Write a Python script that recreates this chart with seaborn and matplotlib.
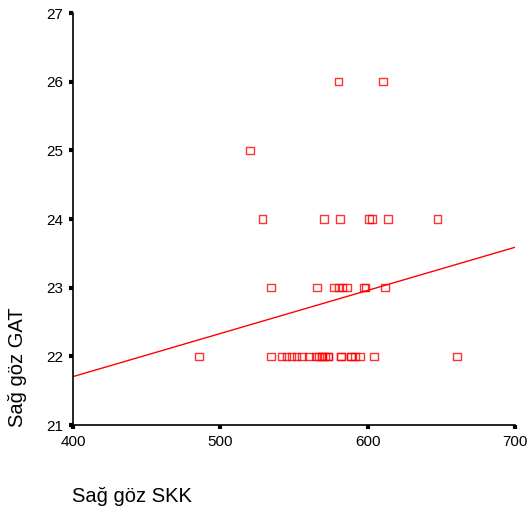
import matplotlib
matplotlib.use("Agg")
import matplotlib.pyplot as plt
import seaborn as sns
import pandas as pd

# Sağ göz SKK values grouped by Sağ göz GAT level (overlapping points counted twice)
skk_gat22 = [485.7, 534.4, 541.4, 545.0, 548.2, 551.8, 555.6, 560.0, 564.9, 566.8,
             568.8, 568.8, 571.0, 573.3, 573.3, 581.7, 581.7, 588.5, 588.5, 591.4,
             594.8, 604.5, 660.6]
skk_gat23 = [534.4, 565.8, 577.2, 580.1, 583.0, 585.8, 597.5, 598.4, 611.8]
skk_gat24 = [528.5, 570.2, 581.2, 601.0, 603.0, 614.0, 647.5]
skk_gat25 = [520.1]
skk_gat26 = [580.1, 610.6]

x_ticks = [400, 500, 600, 700]
y_ticks = [21, 22, 23, 24, 25, 26, 27]

skk = skk_gat22 + skk_gat23 + skk_gat24 + skk_gat25 + skk_gat26
gat = ([22] * len(skk_gat22) + [23] * len(skk_gat23) + [24] * len(skk_gat24)
       + [25] * len(skk_gat25) + [26] * len(skk_gat26))
df = pd.DataFrame({"Sağ göz SKK": skk, "Sağ göz GAT": gat})

sns.set_style("white")
plt.rcParams["font.family"] = ["Liberation Sans", "DejaVu Sans"]

fig = plt.figure(figsize=(5.31, 5.11), dpi=100)
ax = fig.add_axes([73 / 531, 1 - 425 / 511, (515 - 73) / 531, (425 - 13) / 511])
ax.set_xlim(400, 700)
ax.set_ylim(21, 27)

sns.regplot(data=df, x="Sağ göz SKK", y="Sağ göz GAT", ax=ax, ci=None, truncate=False,
            marker="s",
            scatter_kws=dict(s=30, facecolors="none", edgecolors="red", linewidths=1.0),
            line_kws=dict(color="red", linewidth=1.0))

ax.set_xlim(400, 700)
ax.set_ylim(21, 27)
ax.set_xticks(x_ticks)
ax.set_yticks(y_ticks)
sns.despine(ax=ax)
for s in ["left", "bottom"]:
    ax.spines[s].set_color("black")
    ax.spines[s].set_linewidth(1.2)
ax.tick_params(axis="both", which="major", direction="out", length=3, width=3,
               color="black", labelcolor="black", labelsize=11,
               bottom=True, left=True)
ax.tick_params(axis="x", pad=4)
ax.tick_params(axis="y", pad=4)

ax.set_xlabel("")
ax.set_ylabel("")
fig.text(72 / 531, 1 - 502 / 511, "Sağ göz SKK", fontsize=14.5, color="black",
         ha="left", va="baseline")
fig.text(18 / 531, 1 - 427 / 511, "Sağ göz GAT", fontsize=14.5, color="black",
         ha="center", va="bottom", rotation=90)

fig.savefig("out.png", dpi=100, facecolor="white")
